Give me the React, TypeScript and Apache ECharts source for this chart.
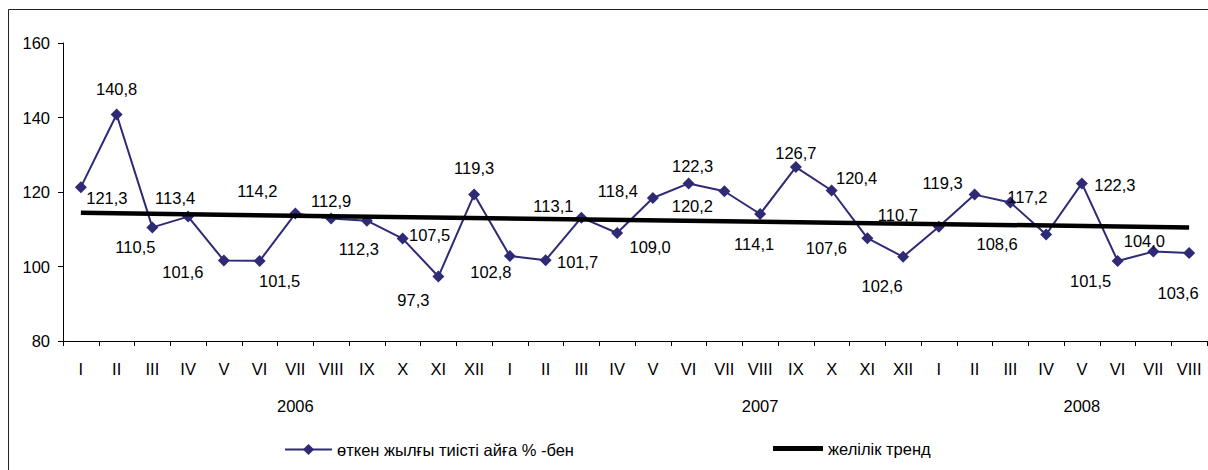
import React, { useEffect, useRef } from "react";
import * as echarts from "echarts";

const months2006 = ["I", "II", "III", "IV", "V", "VI", "VII", "VIII", "IX", "X", "XI", "XII"];
const months2007 = ["I", "II", "III", "IV", "V", "VI", "VII", "VIII", "IX", "X", "XI", "XII"];
const months2008 = ["I", "II", "III", "IV", "V", "VI", "VII", "VIII"];
const categories = [...months2006, ...months2007, ...months2008];

const values2006 = [121.3, 140.8, 110.5, 113.4, 101.6, 101.5, 114.2, 112.9, 112.3, 107.5, 97.3, 119.3];
const values2007 = [102.8, 101.7, 113.1, 109.0, 118.4, 122.3, 120.2, 114.1, 126.7, 120.4, 107.6, 102.6];
const values2008 = [110.7, 119.3, 117.2, 108.6, 122.3, 101.5, 104.0, 103.6];
const values = [...values2006, ...values2007, ...values2008];

const years = ["2006", "2007", "2008"];
const yearLabelIndex = [6, 19, 28];

const trendStart = 114.4;
const trendEnd = 110.5;

const seriesName = "өткен жылғы тиісті айға % -бен";
const trendName = "желілік тренд";

const yTicks = { min: 80, max: 160, interval: 20 };

// label offsets (style only): [dx, dy] from each marker
const labelOffsets: number[][] = [
  [26, 11], [0, -26], [-17, 20], [-13, -19], [-41, 11], [20, 20], [-38, -23], [0, -17],
  [-8, 28], [27, -4], [-25, 23], [0, -27], [-19, 16], [32, 2], [-28, -12], [33, 14],
  [-35, -7], [4, -17], [-32, 15], [-6, 30], [0, -14], [25, -13], [-41, 10], [-21, 29],
  [-41, -12], [-32, -12], [17, -5], [-49, 10], [33, 2], [-27, 20], [-9, -11], [-11, 40],
];

const FONT = "'Liberation Sans', Arial, sans-serif";
const FS = 16.5;

export default function App() {
  const ref = useRef<HTMLDivElement>(null);
  useEffect(() => {
    if (!ref.current) return;
    const chart = echarts.init(ref.current, undefined, { renderer: "svg" });
    const yearAxisData = categories.map((_, i) => {
      const k = yearLabelIndex.indexOf(i);
      return k >= 0 ? years[k] : "";
    });
    const lastIdx = categories.length - 1;
    chart.setOption({
      animation: false,
      backgroundColor: "#ffffff",
      textStyle: { fontFamily: FONT, color: "#000" },
      grid: { left: 63, right: 1, top: 43, height: 298, containLabel: false },
      graphic: [
        {
          type: "rect",
          shape: { x: 8.5, y: 9.5, width: 1220, height: 480 },
          style: { fill: "none", stroke: "#222", lineWidth: 1 },
          silent: true,
          z: -10,
        },
      ],
      legend: [
        {
          data: [seriesName],
          left: 279,
          top: 436,
          itemWidth: 47,
          itemHeight: 14,
          textStyle: { fontFamily: FONT, fontSize: FS, color: "#000" },
        },
        {
          data: [{ name: trendName, icon: "rect" }],
          left: 768,
          top: 435,
          itemWidth: 50,
          itemHeight: 5,
          textStyle: { fontFamily: FONT, fontSize: FS, color: "#000" },
        },
      ],
      xAxis: [
        {
          type: "category",
          data: categories,
          boundaryGap: true,
          axisLine: { show: true, lineStyle: { color: "#000", width: 1 } },
          axisTick: { show: true, length: 5, lineStyle: { color: "#000" }, interval: 0 },
          axisLabel: { interval: 0, margin: 19, fontFamily: FONT, fontSize: FS, color: "#000" },
          splitLine: { show: false },
        },
        {
          type: "category",
          data: yearAxisData,
          position: "bottom",
          boundaryGap: true,
          axisLine: { show: false },
          axisTick: { show: false },
          axisLabel: { interval: 0, margin: 56, fontFamily: FONT, fontSize: FS, color: "#000" },
          splitLine: { show: false },
        },
      ],
      yAxis: {
        type: "value",
        min: yTicks.min,
        max: yTicks.max,
        interval: yTicks.interval,
        axisLine: { show: true, lineStyle: { color: "#000", width: 1 } },
        axisTick: { show: true, length: 5, lineStyle: { color: "#000" } },
        axisLabel: { margin: 13, fontFamily: FONT, fontSize: FS, color: "#000" },
        splitLine: { show: false },
      },
      series: [
        {
          name: seriesName,
          type: "line",
          xAxisIndex: 0,
          data: values.map((v, i) => ({
            value: v,
            label: { offset: labelOffsets[i] },
          })),
          symbol: "diamond",
          symbolSize: 12,
          showAllSymbol: true,
          lineStyle: { color: "#2e2a76", width: 2 },
          itemStyle: { color: "#2e2a76" },
          label: {
            show: true,
            position: "inside",
            align: "center",
            verticalAlign: "middle",
            fontFamily: FONT,
            fontSize: FS,
            color: "#000",
            formatter: (p: any) => Number(p.value).toFixed(1).replace(".", ","),
          },
          z: 2,
        },
        {
          name: trendName,
          type: "line",
          xAxisIndex: 0,
          data: [
            [0, trendStart],
            [lastIdx, trendEnd],
          ],
          symbol: "none",
          lineStyle: { color: "#000", width: 4.5 },
          itemStyle: { color: "#000" },
          z: 3,
        },
      ],
    });
    return () => chart.dispose();
  }, []);
  return (
    <div
      ref={ref}
      style={{ position: "absolute", left: 0, top: 0, width: 1208, height: 470, background: "#fff" }}
    />
  );
}
